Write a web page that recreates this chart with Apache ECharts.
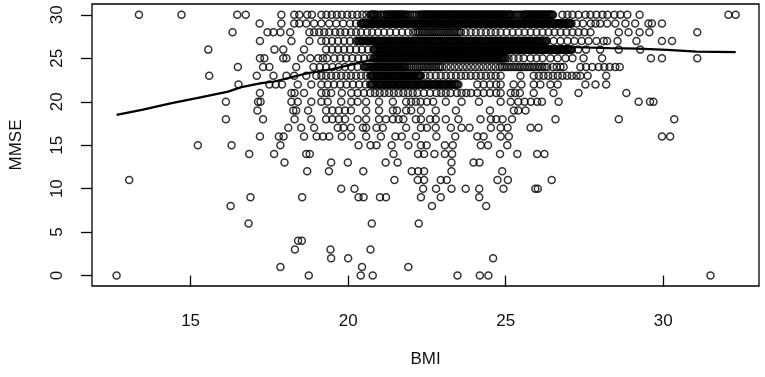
<!DOCTYPE html>
<html>
<head>
<meta charset="utf-8">
<script src="https://cdn.jsdelivr.net/npm/echarts@6/dist/echarts.min.js"></script>
<style>
  html, body {margin: 0; padding: 0; background: #fff;}
  #main {width: 765px; height: 377px;}
</style>
</head>
<body>
<div id="main"></div>
<script>
// MMSE score (integer) -> BMI values, one list per MMSE row
var m30 = [13.36, 14.71, 16.48, 16.75, 17.88, 18.29, 18.45, 18.70, 18.85, 19.15, 19.31, 19.48, 19.64, 19.80, 19.97, 20.13, 20.29, 20.45, 20.58, 20.70, 20.75, 20.81, 20.86, 20.93, 21.02, 21.13, 21.22, 21.28, 21.33, 21.39, 21.44, 21.50, 21.56, 21.61, 21.67, 21.72, 21.78, 21.85, 21.96, 22.10, 22.24, 22.33, 22.38, 22.44, 22.49, 22.55, 22.60, 22.66, 22.72, 22.77, 22.83, 22.88, 22.94, 22.99, 23.05, 23.11, 23.16, 23.22, 23.27, 23.33, 23.38, 23.44, 23.50, 23.55, 23.61, 23.66, 23.72, 23.77, 23.83, 23.89, 23.94, 24.00, 24.05, 24.11, 24.16, 24.22, 24.28, 24.33, 24.39, 24.44, 24.50, 24.55, 24.61, 24.67, 24.72, 24.78, 24.83, 24.89, 24.94, 25.00, 25.06, 25.11, 25.17, 25.30, 25.42, 25.55, 25.61, 25.66, 25.72, 25.78, 25.83, 25.89, 25.94, 26.00, 26.06, 26.11, 26.17, 26.22, 26.28, 26.34, 26.39, 26.45, 26.50, 26.80, 26.96, 27.12, 27.31, 27.53, 27.69, 27.88, 28.07, 28.23, 28.45, 28.64, 28.86, 29.25, 32.07, 32.30];
var m30b = [20.73, 20.78, 20.84, 20.90, 21.05, 21.17, 21.25, 21.31, 21.36, 21.42, 21.47, 21.53, 21.59, 21.64, 21.70, 21.75, 21.81, 21.90, 22.03, 22.17, 22.28, 22.36, 22.41, 22.47, 22.52, 22.58, 22.63, 22.69, 22.75, 22.80, 22.86, 22.91, 22.97, 23.02, 23.08, 23.14, 23.19, 23.25, 23.30, 23.36, 23.41, 23.47, 23.53, 23.58, 23.64, 23.69, 23.75, 23.80, 23.86, 23.92, 23.97, 24.03, 24.08, 24.14, 24.19, 24.25, 24.31, 24.36, 24.42, 24.47, 24.53, 24.58, 24.64, 24.70, 24.75, 24.81, 24.86, 24.92, 24.97, 25.03, 25.09, 25.14, 25.23, 25.36, 25.48, 25.58, 25.64, 25.69, 25.75, 25.81, 25.86, 25.92, 25.97, 26.03, 26.09, 26.14, 26.20, 26.25, 26.31, 26.37, 26.42, 26.48];
var m29 = [17.19, 17.88, 18.29, 18.45, 18.67, 18.92, 19.15, 19.40, 19.62, 19.84, 20.06, 20.25, 20.40, 20.46, 20.51, 20.57, 20.63, 20.68, 20.74, 20.80, 20.85, 20.91, 20.97, 21.02, 21.08, 21.14, 21.19, 21.25, 21.31, 21.36, 21.42, 21.48, 21.53, 21.59, 21.65, 21.70, 21.76, 21.82, 21.87, 21.93, 21.99, 22.04, 22.10, 22.16, 22.21, 22.27, 22.33, 22.38, 22.44, 22.50, 22.55, 22.61, 22.67, 22.72, 22.78, 22.84, 22.89, 22.95, 23.01, 23.06, 23.12, 23.18, 23.23, 23.29, 23.35, 23.40, 23.46, 23.52, 23.57, 23.63, 23.69, 23.74, 23.80, 23.86, 23.91, 23.97, 24.03, 24.08, 24.14, 24.20, 24.25, 24.31, 24.37, 24.42, 24.48, 24.54, 24.59, 24.65, 24.71, 24.76, 24.82, 24.88, 24.93, 24.99, 25.05, 25.10, 25.16, 25.22, 25.27, 25.33, 25.39, 25.44, 25.50, 25.56, 25.61, 25.67, 25.73, 25.78, 25.84, 25.90, 25.95, 26.01, 26.07, 26.12, 26.18, 26.24, 26.29, 26.35, 26.41, 26.46, 26.52, 26.58, 26.63, 26.69, 26.75, 26.80, 26.86, 26.92, 26.97, 27.03, 27.09, 27.25, 27.45, 27.70, 27.85, 28.00, 28.22, 28.48, 28.80, 29.11, 29.53, 29.64, 29.96];
var m29b = [20.43, 20.49, 20.54, 20.60, 20.66, 20.71, 20.77, 20.83, 20.88, 20.94, 21.00, 21.05, 21.11, 21.17, 21.22, 21.28, 21.34, 21.39, 21.45, 21.51, 21.56, 21.62, 21.68, 21.73, 21.79, 21.85, 21.90, 21.96, 22.02, 22.07, 22.13, 22.19, 22.24, 22.30, 22.36, 22.41, 22.47, 22.53, 22.58, 22.64, 22.70, 22.75, 22.81, 22.87, 22.92, 22.98, 23.04, 23.09, 23.15, 23.21, 23.26, 23.32, 23.38, 23.43, 23.49, 23.55, 23.60, 23.66, 23.72, 23.77, 23.83, 23.89, 23.94, 24.00, 24.06, 24.11, 24.17, 24.23, 24.28, 24.34, 24.40, 24.45, 24.51, 24.57, 24.62, 24.68, 24.74, 24.79, 24.85, 24.91, 24.96, 25.02, 25.08, 25.13, 25.19, 25.25, 25.30, 25.36, 25.42, 25.47, 25.53, 25.59, 25.64, 25.70, 25.76, 25.81, 25.87, 25.93, 25.98, 26.04, 26.10, 26.15, 26.21, 26.27, 26.32, 26.38, 26.44, 26.49, 26.55, 26.61, 26.66, 26.72, 26.78, 26.83, 26.89, 26.95, 27.00, 27.06];
var m28 = [16.33, 17.44, 17.63, 17.85, 18.16, 18.77, 18.92, 19.08, 19.24, 19.40, 19.59, 19.75, 19.91, 20.09, 20.25, 20.41, 20.60, 20.76, 20.95, 21.14, 21.33, 21.52, 21.71, 21.90, 22.06, 22.15, 22.21, 22.27, 22.33, 22.39, 22.45, 22.51, 22.57, 22.63, 22.69, 22.75, 22.81, 22.87, 22.93, 22.99, 23.05, 23.11, 23.17, 23.23, 23.29, 23.35, 23.41, 23.47, 23.53, 23.58, 23.73, 23.89, 24.05, 24.21, 24.37, 24.53, 24.68, 24.84, 25.03, 25.22, 25.41, 25.60, 25.79, 25.98, 26.17, 26.36, 26.55, 26.74, 26.93, 27.12, 27.31, 27.50, 27.69, 28.59, 28.90, 29.25, 29.56, 31.08];
var m27 = [17.20, 18.20, 18.77, 19.15, 19.30, 19.49, 19.68, 19.87, 20.06, 20.25, 20.31, 20.37, 20.43, 20.49, 20.55, 20.61, 20.67, 20.73, 20.79, 20.85, 20.91, 20.97, 21.03, 21.09, 21.15, 21.21, 21.27, 21.33, 21.39, 21.45, 21.51, 21.57, 21.63, 21.69, 21.75, 21.81, 21.87, 21.93, 21.99, 22.05, 22.11, 22.17, 22.23, 22.29, 22.35, 22.41, 22.47, 22.53, 22.59, 22.65, 22.71, 22.77, 22.83, 22.89, 22.95, 23.01, 23.07, 23.13, 23.19, 23.25, 23.31, 23.37, 23.43, 23.49, 23.55, 23.61, 23.67, 23.73, 23.79, 23.85, 23.91, 23.97, 24.03, 24.09, 24.15, 24.21, 24.27, 24.33, 24.39, 24.45, 24.51, 24.57, 24.63, 24.69, 24.75, 24.81, 24.87, 24.93, 24.99, 25.05, 25.11, 25.17, 25.23, 25.29, 25.35, 25.41, 25.47, 25.53, 25.59, 25.65, 25.71, 25.77, 25.83, 25.89, 25.95, 26.01, 26.07, 26.13, 26.19, 26.25, 26.31, 26.52, 26.74, 26.96, 27.18, 27.41, 27.63, 27.88, 28.11, 28.22, 28.55, 29.15, 29.96, 30.28];
var m27b = [20.34, 20.40, 20.46, 20.52, 20.58, 20.64, 20.70, 20.76, 20.82, 20.88, 20.94, 21.00, 21.06, 21.12, 21.18, 21.24, 21.30, 21.36, 21.42, 21.48, 21.54, 21.60, 21.66, 21.72, 21.78, 21.84, 21.90, 21.96, 22.02, 22.08, 22.14, 22.20, 22.26, 22.32, 22.38, 22.44, 22.50, 22.56, 22.62, 22.68, 22.74, 22.80, 22.86, 22.92, 22.98, 23.04, 23.10, 23.16, 23.22, 23.28, 23.34, 23.40, 23.46, 23.52, 23.58, 23.64, 23.70, 23.76, 23.82, 23.88, 23.94, 24.00, 24.06, 24.12, 24.18, 24.24, 24.30, 24.36, 24.42, 24.48, 24.54, 24.60, 24.66, 24.72, 24.78, 24.84, 24.90, 24.96, 25.02, 25.08, 25.14, 25.20, 25.26, 25.32, 25.38, 25.44, 25.50, 25.56, 25.62, 25.68, 25.74, 25.80, 25.86, 25.92, 25.98, 26.04, 26.10, 26.16, 26.22, 26.28];
var m26 = [15.56, 17.66, 17.94, 18.60, 19.30, 19.49, 19.68, 19.87, 20.06, 20.25, 20.44, 20.63, 20.80, 20.86, 20.92, 20.98, 21.04, 21.10, 21.16, 21.22, 21.28, 21.34, 21.40, 21.46, 21.52, 21.58, 21.64, 21.70, 21.76, 21.82, 21.88, 21.94, 22.00, 22.06, 22.12, 22.18, 22.24, 22.30, 22.36, 22.42, 22.48, 22.54, 22.60, 22.66, 22.72, 22.78, 22.84, 22.90, 22.96, 23.02, 23.08, 23.14, 23.20, 23.26, 23.32, 23.38, 23.44, 23.50, 23.56, 23.62, 23.68, 23.74, 23.80, 23.86, 23.92, 23.98, 24.04, 24.10, 24.16, 24.22, 24.28, 24.34, 24.40, 24.46, 24.52, 24.58, 24.64, 24.70, 24.76, 24.82, 24.88, 24.94, 25.00, 25.06, 25.12, 25.18, 25.24, 25.30, 25.36, 25.42, 25.48, 25.54, 25.60, 25.66, 25.72, 25.78, 25.84, 25.90, 25.96, 26.02, 26.08, 26.14, 26.20, 26.26, 26.32, 26.38, 26.44, 26.50, 26.56, 26.62, 26.68, 26.74, 26.80, 26.86, 26.92, 26.98, 27.04, 27.10, 27.30, 27.55, 28.00, 28.59, 29.27];
var m26b = [20.83, 20.89, 20.95, 21.01, 21.07, 21.13, 21.19, 21.25, 21.31, 21.37, 21.43, 21.49, 21.55, 21.61, 21.67, 21.73, 21.79, 21.85, 21.91, 21.97, 22.03, 22.09, 22.15, 22.21, 22.27, 22.33, 22.39, 22.45, 22.51, 22.57, 22.63, 22.69, 22.75, 22.81, 22.87, 22.93, 22.99, 23.05, 23.11, 23.17, 23.23, 23.29, 23.35, 23.41, 23.47, 23.53, 23.59, 23.65, 23.71, 23.77, 23.83, 23.89, 23.95, 24.01, 24.07, 24.13, 24.19, 24.25, 24.31, 24.37, 24.43, 24.49, 24.55, 24.61, 24.67, 24.73, 24.79, 24.85, 24.91, 24.97, 25.03, 25.09, 25.15, 25.21, 25.27, 25.33, 25.39, 25.45, 25.51, 25.57, 25.63, 25.69, 25.75, 25.81, 25.87, 25.93, 25.99, 26.05, 26.11, 26.17, 26.23, 26.29, 26.35, 26.41, 26.47, 26.53, 26.59, 26.65, 26.71, 26.77, 26.83, 26.89, 26.95, 27.01, 27.07];
var m25 = [17.20, 17.34, 17.94, 18.04, 18.51, 18.80, 19.05, 19.20, 19.33, 19.56, 19.75, 19.94, 20.13, 20.32, 20.51, 20.70, 20.80, 20.86, 20.92, 20.98, 21.04, 21.10, 21.16, 21.22, 21.28, 21.34, 21.40, 21.46, 21.52, 21.58, 21.64, 21.70, 21.76, 21.82, 21.88, 21.94, 22.00, 22.06, 22.12, 22.18, 22.24, 22.30, 22.36, 22.42, 22.48, 22.54, 22.60, 22.66, 22.72, 22.78, 22.84, 22.90, 22.96, 23.02, 23.08, 23.14, 23.20, 23.26, 23.32, 23.38, 23.44, 23.50, 23.56, 23.62, 23.68, 23.74, 23.80, 23.86, 23.92, 23.98, 24.04, 24.10, 24.16, 24.22, 24.28, 24.34, 24.40, 24.46, 24.52, 24.58, 24.64, 24.70, 24.76, 24.82, 24.88, 24.94, 25.00, 25.09, 25.25, 25.41, 25.57, 25.79, 25.98, 26.17, 26.42, 26.65, 26.90, 27.12, 27.47, 28.06, 29.61, 29.96, 31.08];
var m25b = [20.83, 20.89, 20.95, 21.01, 21.07, 21.13, 21.19, 21.25, 21.31, 21.37, 21.43, 21.49, 21.55, 21.61, 21.67, 21.73, 21.79, 21.85, 21.91, 21.97, 22.03, 22.09, 22.15, 22.21, 22.27, 22.33, 22.39, 22.45, 22.51, 22.57, 22.63, 22.69, 22.75, 22.81, 22.87, 22.93, 22.99, 23.05, 23.11, 23.17, 23.23, 23.29, 23.35, 23.41, 23.47, 23.53, 23.59, 23.65, 23.71, 23.77, 23.83, 23.89, 23.95, 24.01, 24.07, 24.13, 24.19, 24.25, 24.31, 24.37, 24.43, 24.49, 24.55, 24.61, 24.67, 24.73, 24.79, 24.85, 24.91, 24.97];
var m24 = [16.50, 17.30, 17.50, 18.35, 18.90, 19.10, 19.30, 19.50, 19.70, 19.90, 20.10, 20.30, 20.50, 20.56, 20.62, 20.68, 20.74, 20.80, 20.86, 20.92, 20.98, 21.04, 21.10, 21.16, 21.22, 21.28, 21.34, 21.40, 21.46, 21.52, 21.58, 21.64, 21.70, 21.76, 21.82, 21.95, 22.08, 22.21, 22.34, 22.47, 22.60, 22.73, 22.86, 22.99, 23.12, 23.25, 23.38, 23.51, 23.64, 23.77, 23.90, 24.03, 24.16, 24.29, 24.42, 24.55, 24.68, 24.81, 24.88, 24.96, 25.04, 25.12, 25.20, 25.28, 25.36, 25.44, 25.52, 25.60, 25.68, 25.76, 25.84, 25.92, 26.00, 26.08, 26.16, 26.24, 26.32, 26.50, 26.62, 26.74, 26.84, 27.37, 27.55, 27.75, 27.95, 28.13, 28.30, 28.48, 28.62];
var m24b = [20.53, 20.59, 20.65, 20.71, 20.77, 20.83, 20.89, 20.95, 21.01, 21.07, 21.13, 21.19, 21.25, 21.31, 21.37, 21.43, 21.49, 21.55, 21.61, 21.67, 21.73, 21.79, 21.88, 22.01, 22.14, 22.27, 22.40, 22.53, 22.66, 22.79, 22.92];
var m23 = [15.59, 17.10, 17.63, 18.04, 18.29, 18.67, 18.99, 19.15, 19.30, 19.46, 19.62, 19.78, 19.94, 20.09, 20.25, 20.41, 20.57, 20.70, 20.76, 20.82, 20.88, 20.94, 21.00, 21.06, 21.12, 21.18, 21.24, 21.30, 21.36, 21.42, 21.48, 21.54, 21.60, 21.66, 21.72, 21.78, 21.84, 21.90, 21.96, 22.02, 22.08, 22.14, 22.20, 22.26, 22.31, 22.45, 22.60, 22.78, 22.94, 23.10, 23.26, 23.42, 23.58, 23.73, 23.89, 24.05, 24.21, 24.37, 24.53, 24.68, 24.84, 25.47, 25.89, 26.05, 26.20, 26.35, 26.50, 26.65, 26.80, 26.95, 27.10, 27.25, 27.37, 27.60, 28.19];
var m23b = [20.73, 20.79, 20.85, 20.91, 20.97, 21.03, 21.09, 21.15, 21.21, 21.27, 21.33, 21.39, 21.45, 21.51, 21.57, 21.63, 21.69, 21.75, 21.81, 21.87, 21.93, 21.99, 22.05, 22.11, 22.17, 22.23, 22.29];
var m22 = [16.52, 17.50, 17.70, 17.90, 18.40, 18.83, 19.15, 19.35, 19.55, 19.75, 19.95, 20.15, 20.35, 20.55, 20.70, 20.77, 20.84, 20.91, 20.98, 21.05, 21.12, 21.19, 21.26, 21.33, 21.40, 21.47, 21.54, 21.61, 21.68, 21.75, 21.82, 21.89, 21.96, 22.03, 22.10, 22.17, 22.24, 22.31, 22.38, 22.45, 22.52, 22.59, 22.66, 22.73, 22.80, 22.87, 22.94, 23.01, 23.08, 23.15, 23.22, 23.29, 23.36, 23.43, 23.50, 24.10, 24.30, 24.50, 24.70, 24.84, 25.25, 25.50, 25.89, 26.10, 26.42, 26.65, 27.53, 27.85, 28.19];
var m22b = [20.73, 20.80, 20.87, 20.94, 21.01, 21.08, 21.15, 21.22, 21.29, 21.36, 21.43, 21.50, 21.57, 21.64, 21.71, 21.78, 21.85, 21.92, 21.99, 22.06, 22.13, 22.20, 22.27, 22.34, 22.41, 22.48, 22.55, 22.62, 22.69, 22.76, 22.83, 22.90, 22.97, 23.04, 23.11, 23.18, 23.25, 23.32, 23.39, 23.46];
var m21 = [17.20, 18.20, 18.30, 18.60, 19.15, 19.30, 19.46, 19.80, 20.10, 20.30, 20.50, 20.70, 20.85, 21.00, 21.15, 21.30, 21.45, 21.60, 21.75, 21.90, 22.05, 22.20, 22.40, 22.60, 22.80, 22.95, 23.10, 23.25, 23.45, 23.60, 23.75, 23.90, 24.10, 24.30, 24.50, 24.70, 24.84, 25.16, 25.30, 25.45, 25.89, 26.52, 27.31, 28.83];
var m20 = [16.12, 17.14, 17.22, 18.20, 18.40, 18.83, 19.15, 19.35, 19.78, 20.10, 20.30, 20.57, 20.98, 21.42, 21.84, 22.00, 22.15, 22.30, 22.50, 22.70, 23.10, 23.60, 24.15, 24.84, 25.16, 25.40, 25.60, 25.80, 26.00, 26.15, 26.68, 29.22, 29.58, 29.69];
var m19 = [17.12, 18.26, 18.35, 18.73, 19.30, 19.50, 19.70, 19.90, 20.09, 20.57, 20.98, 21.42, 21.55, 21.84, 22.00, 22.31, 22.78, 23.42, 24.50, 25.26, 25.40, 25.63];
var m18 = [16.12, 17.30, 18.30, 18.83, 19.30, 19.50, 19.70, 19.90, 20.30, 20.57, 20.98, 21.20, 21.42, 21.60, 21.75, 22.15, 22.31, 22.60, 22.78, 23.10, 23.50, 24.20, 24.53, 24.70, 24.90, 25.20, 26.58, 28.59, 30.35];
var m17 = [18.10, 18.51, 18.92, 19.67, 19.85, 20.09, 20.47, 20.57, 20.90, 21.10, 21.84, 22.31, 22.50, 22.78, 23.26, 23.60, 23.85, 24.53, 24.84, 25.06, 25.79, 26.04];
var m16 = [17.20, 17.80, 17.95, 18.60, 19.00, 19.20, 19.40, 19.80, 20.10, 20.57, 21.04, 21.50, 21.70, 22.15, 22.80, 23.40, 24.10, 24.30, 24.84, 25.10, 29.96, 30.22];
var m15 = [15.23, 16.30, 17.85, 20.33, 20.71, 20.90, 21.38, 21.91, 22.31, 22.49, 23.07, 23.32, 24.21, 24.44, 25.05];
var m14 = [16.86, 17.65, 18.67, 18.78, 21.44, 22.22, 22.41, 22.74, 23.07, 23.30, 24.82, 25.37, 26.00, 26.23];
var m13 = [17.98, 19.46, 19.99, 21.19, 21.57, 23.28, 23.98, 24.17];
var m12 = [18.70, 19.39, 20.48, 22.02, 22.22, 22.41, 23.28, 24.89];
var m11 = [13.05, 21.47, 22.21, 22.41, 22.94, 23.13, 24.74, 25.07, 26.46];
var m10 = [19.78, 20.20, 22.38, 22.79, 23.28, 23.73, 24.16, 24.93, 25.94, 26.02];
var m9 = [16.90, 18.54, 20.33, 20.49, 21.01, 21.20, 22.31, 22.94, 24.16];
var m8 = [16.27, 22.66, 24.38];
var m7 = [];
var m6 = [16.84, 20.75, 22.24];
var m5 = [];
var m4 = [18.41, 18.53];
var m3 = [18.31, 19.44, 20.71];
var m2 = [19.46, 20.00, 24.60];
var m1 = [17.85, 20.44, 21.91];
var m0 = [12.65, 18.75, 20.40, 20.78, 23.47, 24.18, 24.45, 31.50];

var mmseLevels = [30, 29, 28, 27, 26, 25, 24, 23, 22, 21, 20, 19, 18, 17, 16, 15, 14, 13, 12, 11, 10, 9, 8, 7, 6, 5, 4, 3, 2, 1, 0];
var bmiRows = [m30.concat(m30b), m29.concat(m29b), m28, m27.concat(m27b), m26.concat(m26b), m25.concat(m25b),
    m24.concat(m24b), m23.concat(m23b), m22.concat(m22b), m21, m20, m19, m18, m17, m16, m15, m14, m13, m12, m11,
    m10, m9, m8, m7, m6, m5, m4, m3, m2, m1, m0];

// lowess smooth
var lowessBmi = [12.65, 13.45, 14.40, 15.35, 16.19, 16.61, 17.25, 17.66, 18.72, 19.50, 20.73, 21.36, 22.50, 24.00, 25.50, 27.00, 28.32, 29.20, 30.12, 31.07, 32.30];
var lowessMmse = [18.49, 19.07, 19.84, 20.53, 21.17, 21.68, 22.14, 22.33, 23.29, 23.75, 24.82, 25.30, 25.80, 26.10, 26.28, 26.30, 26.17, 26.12, 25.97, 25.78, 25.71];

var xTicks = [15, 20, 25, 30];
var yTicks = [0, 5, 10, 15, 20, 25, 30];

var points = [];
for (var i = 0; i < mmseLevels.length; i++) {
    for (var j = 0; j < bmiRows[i].length; j++) {
        points.push([bmiRows[i][j], mmseLevels[i]]);
    }
}
var smooth = lowessBmi.map(function (b, k) { return [b, lowessMmse[k]]; });

var font = 'Liberation Sans, Arial, sans-serif';
var myChart = echarts.init(document.getElementById('main'));
var option = {
    animation: false,
    backgroundColor: '#fff',
    grid: {
        left: 90, right: 6, top: 4, bottom: 91,
        show: true, borderColor: '#000', borderWidth: 1.3
    },
    xAxis: {
        type: 'value', min: 11.87, max: 33.04,
        name: 'BMI', nameLocation: 'middle', nameGap: 65,
        nameTextStyle: {color: '#111', fontSize: 17, fontFamily: font},
        axisLine: {show: false},
        splitLine: {show: false},
        axisTick: {show: true, length: 11, customValues: xTicks, lineStyle: {color: '#000', width: 1.3}},
        axisLabel: {customValues: xTicks, margin: 27, color: '#111', fontSize: 17, fontFamily: font}
    },
    yAxis: {
        type: 'value', min: -1.2, max: 31.25,
        name: 'MMSE', nameLocation: 'middle', nameRotate: 90, nameGap: 67,
        nameTextStyle: {color: '#111', fontSize: 17, fontFamily: font},
        axisLine: {show: false},
        splitLine: {show: false},
        axisTick: {show: true, length: 11, customValues: yTicks, lineStyle: {color: '#000', width: 1.3}},
        axisLabel: {customValues: yTicks, rotate: 90, margin: 26, color: '#111', fontSize: 17, fontFamily: font}
    },
    series: [
        {
            type: 'scatter',
            data: points,
            symbol: 'circle',
            symbolSize: 7,
            large: false,
            progressive: 0,
            itemStyle: {color: 'rgba(0,0,0,0)', borderColor: '#000', borderWidth: 1.5},
            z: 2
        },
        {
            type: 'line',
            data: smooth,
            showSymbol: false,
            smooth: false,
            lineStyle: {color: '#000', width: 2.2},
            z: 3
        }
    ]
};
myChart.setOption(option, true);
</script>
</body>
</html>
